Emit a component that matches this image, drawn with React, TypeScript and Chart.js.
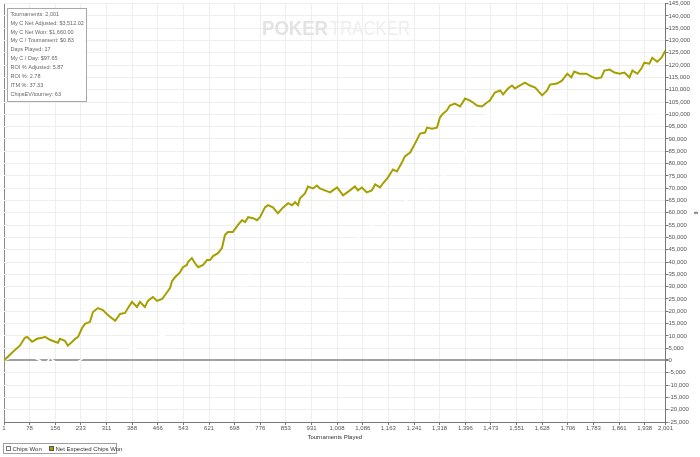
import React, { useEffect, useRef } from 'react';
import { Chart, registerables } from 'chart.js';

Chart.register(...registerables);

// Net Expected Chips Won (tournament number, chips)
const evTournaments = [
  1, 19, 34, 49, 64, 71, 86, 101, 116, 125, 140, 155, 164, 170, 185, 194, 207, 216, 225, 237,
  246, 261, 270, 285, 300, 315, 337, 352, 367, 376, 388, 403, 412, 427, 436, 451, 464, 479, 488, 503,
  509, 518, 533, 542, 554, 557, 569, 578, 588, 603, 615, 624, 633, 648, 660, 669, 678, 693, 708, 721,
  730, 739, 754, 766, 775, 790, 799, 814, 829, 845, 860, 872, 881, 890, 896, 911, 920, 935, 947, 956,
  971, 987, 1008, 1026, 1047, 1062, 1071, 1083, 1098, 1113, 1123, 1138, 1147, 1162, 1177, 1189, 1204, 1213, 1229, 1244,
  1259, 1274, 1280, 1295, 1310, 1319, 1328, 1340, 1349, 1364, 1380, 1395, 1410, 1419, 1431, 1446, 1461, 1470, 1485, 1501,
  1510, 1525, 1537, 1546, 1555, 1576, 1591, 1607, 1628, 1643, 1652, 1673, 1688, 1704, 1716, 1725, 1741, 1762, 1777, 1792,
  1807, 1816, 1832, 1847, 1862, 1877, 1892, 1901, 1916, 1928, 1937, 1952, 1961, 1976, 1989, 2001,
];
const evChips = [
  0, 2300, 4300, 6000, 9200, 9600, 7600, 8800, 9200, 9600, 8400, 7600, 7200, 8800, 8000, 6000, 7600, 8800, 9600, 13200,
  14900, 15700, 19700, 21300, 20500, 18500, 16100, 18900, 19300, 21300, 23800, 21700, 23800, 21700, 24200, 25800, 24200, 25000, 26600, 29400,
  32200, 33800, 35800, 37900, 38800, 40000, 41600, 39600, 37900, 38800, 40800, 40800, 42400, 43600, 45700, 51000, 52200, 52200, 55000, 57000,
  56200, 58200, 57800, 57000, 58200, 62200, 63100, 62200, 59800, 62200, 63900, 63100, 64300, 63100, 65900, 67900, 70700, 69900, 71100, 69900,
  69100, 68300, 70300, 67100, 69100, 70700, 69100, 70300, 68300, 69100, 71500, 70300, 72000, 74400, 77600, 76800, 80400, 82900, 84500, 88200,
  92200, 92600, 94600, 94200, 94600, 98700, 100300, 101600, 103600, 104400, 103200, 106400, 105600, 104800, 103600, 103200, 104800, 105600, 108900, 109700,
  108100, 110500, 111700, 110500, 111300, 112900, 111700, 110900, 107700, 109700, 112100, 112500, 113700, 116500, 115000, 117400, 116500, 116500, 115300, 114600,
  115000, 117800, 118200, 117000, 116500, 117000, 115000, 117800, 116500, 118600, 121000, 120600, 123000, 121400, 123000, 125900,
];

// Chips Won (drawn in white, only visible where it cuts the grid)
const wonTournaments = [1, 60, 110, 125, 134, 142, 149, 190, 231, 260, 300, 400, 450, 530, 650, 715, 745, 875, 930, 1010, 1170, 1320, 1380, 1425, 1460, 1600, 1800, 2001];
const wonChips = [0, 3000, 0, -2000, 0, 1500, 0, -3000, 0, 3000, 3000, 5000, 9000, 12000, 26000, 28000, 36000, 36000, 42000, 43000, 61000, 74000, 80000, 93000, 100000, 100000, 101000, 100000];

const xTickValues = [1, 78, 156, 233, 311, 388, 466, 543, 621, 698, 776, 853, 931, 1008, 1086, 1163, 1241, 1318, 1396, 1473, 1551, 1628, 1706, 1783, 1861, 1938, 2001];
const yMin = -25000;
const yMax = 145000;
const yStep = 5000;

const xTitle = 'Tournaments Played';
const yTitle = '¢';
const legendLabels = ['Chips Won', 'Net Expected Chips Won'];
const statsLines = [
  'Tournaments: 2,001',
  'My C Net Adjusted: $3,512.02',
  'My C Net Won: $1,660.00',
  'My C / Tournament: $0.83',
  'Days Played: 17',
  'My C / Day: $97.65',
  'ROI % Adjusted: 5.87',
  'ROI %: 2.78',
  'ITM %: 37.33',
  'ChipsEV/tourney: 63',
];

const EV_COLOR = '#a5a000';
const SANS = '"Liberation Sans", Arial, sans-serif';
const NARROW = '"Liberation Sans Narrow", "Liberation Sans", Arial, sans-serif';

const overlayPlugin = {
  id: 'overlay',
  beforeDatasetsDraw(chart: any) {
    const ctx = chart.ctx as CanvasRenderingContext2D;
    ctx.save();
    ctx.textBaseline = 'alphabetic';
    ctx.textAlign = 'left';
    ctx.font = `bold 21px ${SANS}`;
    ctx.fillStyle = '#e3e3e3';
    ctx.fillText('POKER', 262, 35, 66);
    ctx.font = `21px ${SANS}`;
    ctx.fillStyle = '#eeeeee';
    ctx.fillText('TRACKER', 330, 35, 80);
    ctx.restore();
  },
  afterDraw(chart: any) {
    const ctx = chart.ctx as CanvasRenderingContext2D;
    ctx.save();
    // stats box
    ctx.fillStyle = '#ffffff';
    ctx.fillRect(7.5, 8.5, 79, 93);
    ctx.strokeStyle = '#a8a8a8';
    ctx.lineWidth = 1;
    ctx.strokeRect(7.5, 8.5, 79, 93);
    ctx.font = `5.5px ${SANS}`;
    ctx.fillStyle = '#666666';
    ctx.textBaseline = 'middle';
    ctx.textAlign = 'left';
    statsLines.forEach((t, i) => ctx.fillText(t, 10.5, 14.3 + i * 8.86));

    // legend
    ctx.strokeStyle = '#a0a0a0';
    ctx.strokeRect(3.5, 443.5, 113, 10);
    ctx.fillStyle = '#ffffff';
    ctx.strokeStyle = '#777777';
    ctx.fillRect(6.5, 446.5, 4, 4);
    ctx.strokeRect(6.5, 446.5, 4, 4);
    ctx.fillStyle = EV_COLOR;
    ctx.strokeStyle = '#555555';
    ctx.fillRect(49.5, 446.5, 4, 4);
    ctx.strokeRect(49.5, 446.5, 4, 4);
    ctx.font = `6px ${SANS}`;
    ctx.fillStyle = '#333333';
    ctx.fillText(legendLabels[0], 12.5, 449);
    ctx.fillText(legendLabels[1], 55.5, 449);
    ctx.restore();
  },
};

const fmt = (v: number) => Number(v).toLocaleString('en-US');

export default function App() {
  const canvasRef = useRef<HTMLCanvasElement | null>(null);

  useEffect(() => {
    document.body.style.margin = '0';
    const canvas = canvasRef.current;
    if (!canvas) return;
    const chart = new Chart(canvas, {
      type: 'line',
      data: {
        datasets: [
          {
            label: legendLabels[0],
            data: wonTournaments.map((t, i) => ({ x: t, y: wonChips[i] })),
            borderColor: '#ffffff',
            backgroundColor: '#ffffff',
            borderWidth: 1.5,
            pointRadius: 0,
            tension: 0,
            order: 1,
          },
          {
            label: legendLabels[1],
            data: evTournaments.map((t, i) => ({ x: t, y: evChips[i] })),
            borderColor: EV_COLOR,
            backgroundColor: EV_COLOR,
            borderWidth: 2,
            pointRadius: 0,
            tension: 0,
            order: 0,
          },
        ],
      },
      options: {
        animation: false,
        responsive: false,
        devicePixelRatio: 1,
        events: [],
        layout: { padding: { left: 4, top: 3, right: 0, bottom: 14 } },
        plugins: {
          legend: { display: false },
          tooltip: { enabled: false },
        },
        scales: {
          x: {
            type: 'linear',
            min: 1,
            max: 2001,
            afterBuildTicks: (scale: any) => {
              scale.ticks = xTickValues.map((v) => ({ value: v }));
            },
            afterFit: (scale: any) => {
              scale.height = 21;
            },
            ticks: {
              autoSkip: false,
              maxRotation: 0,
              padding: 0,
              color: '#555555',
              font: { family: NARROW, size: 6 },
              callback: (v: any) => fmt(v),
            },
            grid: {
              color: (c: any) => (c.tick && c.tick.value === 1 ? '#8a8a8a' : '#eeeeee'),
              tickColor: '#777777',
              tickLength: 3,
              lineWidth: 1,
            },
            border: { color: '#777777', width: 1 },
            title: {
              display: true,
              text: xTitle,
              color: '#333333',
              font: { family: SANS, size: 6 },
              padding: { top: 0, bottom: 2 },
            },
          },
          y: {
            type: 'linear',
            position: 'right',
            min: yMin,
            max: yMax,
            afterFit: (scale: any) => {
              scale.width = 34.5;
            },
            ticks: {
              stepSize: yStep,
              padding: 0,
              color: '#555555',
              font: { family: NARROW, size: 6 },
              callback: (v: any) => fmt(v),
            },
            grid: {
              color: (c: any) => (c.tick && c.tick.value === 0 ? '#a0a0a0' : '#eeeeee'),
              lineWidth: (c: any) => (c.tick && c.tick.value === 0 ? 2 : 1),
              tickColor: '#777777',
              tickLength: 3,
            },
            border: { color: '#777777', width: 1 },
            title: {
              display: true,
              text: yTitle,
              color: '#333333',
              font: { family: SANS, size: 6 },
              padding: { top: 1, bottom: 0 },
            },
          },
        },
      },
      plugins: [overlayPlugin],
    } as any);
    return () => chart.destroy();
  }, []);

  return (
    <div style={{ width: 700, height: 457, position: 'relative', background: '#ffffff' }}>
      <canvas ref={canvasRef} width={700} height={457} style={{ display: 'block' }} />
    </div>
  );
}
